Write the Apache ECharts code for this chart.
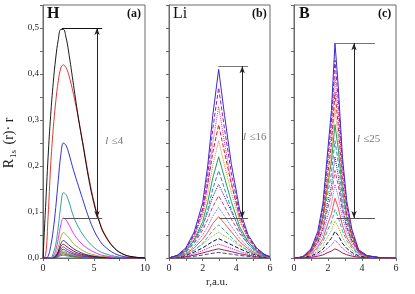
<!DOCTYPE html>
<html>
<head>
<meta charset="utf-8">
<script src="https://cdn.jsdelivr.net/npm/echarts@6/dist/echarts.min.js"></script>
<style>
  html, body { margin: 0; padding: 0; background: #fff; }
  #main { width: 415px; height: 294px; }
</style>
</head>
<body>
<div id="main"></div>
<script>
// r grids (a.u.) for each panel
var rH  = [0, 0.25, 0.5, 0.75, 1, 1.25, 1.5, 1.75, 2, 2.25, 2.5, 3, 3.5, 4, 4.5, 5, 5.5, 6, 7, 8, 9, 10];
var rLi = [0, 0.5, 1, 1.5, 2, 2.3, 2.6, 2.95, 3.3, 3.7, 4.2, 4.7, 5.2, 5.7, 6];
var rB  = [0, 0.5, 1, 1.4, 1.7, 2, 2.2, 2.41, 2.6, 2.85, 3.1, 3.4, 3.8, 4.3, 5, 6];

// (a) H, l <= 4
var curvesH = [
  [0, 0.11, 0.22, 0.31, 0.38, 0.435, 0.475, 0.497, 0.497, 0.48, 0.45, 0.375, 0.30, 0.235, 0.17, 0.118, 0.08, 0.052, 0.021, 0.007, 0.002, 0],
  [0, 0.005, 0.09, 0.2, 0.28, 0.34, 0.385, 0.413, 0.42, 0.414, 0.40, 0.355, 0.30, 0.238, 0.175, 0.122, 0.082, 0.054, 0.022, 0.007, 0.002, 0],
  [0, 0, 0.004, 0.025, 0.06, 0.11, 0.17, 0.225, 0.25, 0.245, 0.23, 0.19, 0.155, 0.12, 0.087, 0.06, 0.04, 0.026, 0.01, 0.003, 0.001, 0],
  [0, 0, 0, 0, 0.01, 0.03, 0.068, 0.115, 0.142, 0.138, 0.125, 0.09, 0.066, 0.048, 0.034, 0.023, 0.015, 0.01, 0.004, 0.001, 0, 0],
  [0, 0, 0, 0, 0.004, 0.017, 0.042, 0.072, 0.087, 0.083, 0.074, 0.053, 0.038, 0.027, 0.019, 0.013, 0.008, 0.005, 0.002, 0, 0, 0],
  [0, 0, 0, 0, 0.002, 0.009, 0.024, 0.045, 0.055, 0.051, 0.045, 0.031, 0.022, 0.015, 0.01, 0.007, 0.004, 0.003, 0.001, 0, 0, 0],
  [0, 0, 0, 0, 0.001, 0.005, 0.015, 0.031, 0.038, 0.034, 0.029, 0.02, 0.014, 0.009, 0.006, 0.004, 0.0025, 0.0015, 0, 0, 0, 0],
  [0, 0, 0, 0, 0.0008, 0.004, 0.012, 0.025, 0.03, 0.026, 0.022, 0.015, 0.01, 0.007, 0.0045, 0.003, 0.002, 0.001, 0, 0, 0, 0],
  [0, 0, 0, 0, 0.0005, 0.003, 0.01, 0.02, 0.024, 0.02, 0.017, 0.011, 0.0075, 0.005, 0.003, 0.002, 0.0012, 0.0007, 0, 0, 0, 0],
  [0, 0, 0, 0, 0.0004, 0.0025, 0.008, 0.016, 0.019, 0.016, 0.013, 0.0085, 0.0055, 0.0036, 0.0023, 0.0015, 0.0009, 0.0005, 0, 0, 0, 0],
  [0, 0, 0, 0, 0.0003, 0.002, 0.0065, 0.013, 0.015, 0.0125, 0.01, 0.0065, 0.004, 0.0026, 0.0017, 0.001, 0.0006, 0.0003, 0, 0, 0, 0],
  [0, 0, 0, 0, 0.0002, 0.0015, 0.005, 0.0104, 0.012, 0.0098, 0.0078, 0.005, 0.003, 0.002, 0.0012, 0.0008, 0.0004, 0.0002, 0, 0, 0, 0],
  [0, 0, 0, 0, 0.0002, 0.0012, 0.004, 0.0078, 0.009, 0.0074, 0.006, 0.0038, 0.0023, 0.0015, 0.0009, 0.0006, 0.0003, 0.0002, 0, 0, 0, 0],
  [0, 0, 0, 0, 0.0001, 0.0008, 0.0027, 0.0052, 0.006, 0.005, 0.004, 0.0025, 0.0015, 0.001, 0.0006, 0.0004, 0.0002, 0.0001, 0, 0, 0, 0]
];
var colorsH = ['#000000', '#e0201a', '#1a1ad8', '#1a9a8a', '#e020e0', '#a0a020', '#1a1a80',
               '#800000', '#8020a0', '#2040c0', '#e06080', '#20a020', '#804020', '#208080'];

// (b) Li, l <= 16
var curvesLi = [
  [0, 0.006, 0.022, 0.057, 0.12, 0.2, 0.31, 0.41, 0.31, 0.205, 0.105, 0.05, 0.022, 0.007, 0.003],
  [0, 0.0056, 0.02, 0.051, 0.108, 0.181, 0.28, 0.37, 0.28, 0.185, 0.095, 0.045, 0.02, 0.0063, 0.0026],
  [0, 0.005, 0.018, 0.046, 0.097, 0.161, 0.25, 0.33, 0.25, 0.165, 0.084, 0.04, 0.018, 0.0056, 0.0023],
  [0, 0.0058, 0.02, 0.052, 0.104, 0.16, 0.229, 0.29, 0.229, 0.162, 0.09, 0.046, 0.02, 0.0073, 0.0029],
  [0, 0.0051, 0.018, 0.046, 0.092, 0.14, 0.201, 0.255, 0.201, 0.143, 0.079, 0.041, 0.018, 0.0064, 0.0026],
  [0, 0.0044, 0.015, 0.04, 0.079, 0.121, 0.174, 0.22, 0.174, 0.123, 0.068, 0.035, 0.015, 0.0055, 0.0022],
  [0, 0.0038, 0.013, 0.034, 0.068, 0.105, 0.15, 0.19, 0.15, 0.106, 0.059, 0.03, 0.013, 0.0048, 0.0019],
  [0, 0.0056, 0.016, 0.038, 0.072, 0.099, 0.133, 0.16, 0.133, 0.101, 0.062, 0.035, 0.016, 0.0064, 0.0024],
  [0, 0.0047, 0.0135, 0.032, 0.061, 0.084, 0.112, 0.135, 0.112, 0.085, 0.053, 0.03, 0.0135, 0.0054, 0.002],
  [0, 0.0039, 0.011, 0.026, 0.05, 0.068, 0.091, 0.11, 0.091, 0.069, 0.043, 0.024, 0.011, 0.0044, 0.0017],
  [0, 0.0032, 0.009, 0.022, 0.041, 0.056, 0.075, 0.09, 0.075, 0.057, 0.035, 0.02, 0.009, 0.0036, 0.0014],
  [0, 0.0025, 0.0072, 0.017, 0.032, 0.045, 0.06, 0.072, 0.06, 0.045, 0.028, 0.016, 0.0072, 0.0029, 0.0011],
  [0, 0.0028, 0.0078, 0.017, 0.03, 0.039, 0.048, 0.056, 0.048, 0.039, 0.026, 0.016, 0.0078, 0.0034, 0.0011],
  [0, 0.0021, 0.0059, 0.013, 0.022, 0.029, 0.036, 0.042, 0.036, 0.029, 0.02, 0.012, 0.0059, 0.0025, 0.0008],
  [0, 0.0015, 0.0042, 0.0093, 0.016, 0.021, 0.026, 0.03, 0.026, 0.021, 0.014, 0.0087, 0.0042, 0.0018, 0.0006],
  [0, 0.001, 0.0028, 0.0062, 0.011, 0.014, 0.017, 0.02, 0.017, 0.014, 0.0094, 0.0058, 0.0028, 0.0012, 0.0004],
  [0, 0.0006, 0.0017, 0.0037, 0.0064, 0.0083, 0.0103, 0.012, 0.0103, 0.0084, 0.0056, 0.0035, 0.0017, 0.0007, 0.0002]
];

// (c) B, l <= 25
var curvesB = [
  [0, 0.002, 0.02, 0.058, 0.118, 0.24, 0.32, 0.467, 0.375, 0.22, 0.125, 0.063, 0.018, 0.005, 0.001, 0],
  [0, 0.0017, 0.018, 0.053, 0.109, 0.221, 0.295, 0.43, 0.345, 0.203, 0.115, 0.058, 0.017, 0.0047, 0.0009, 0],
  [0, 0.0016, 0.017, 0.049, 0.1, 0.203, 0.271, 0.395, 0.317, 0.186, 0.106, 0.053, 0.015, 0.0043, 0.0008, 0],
  [0, 0.0014, 0.015, 0.045, 0.091, 0.185, 0.247, 0.36, 0.289, 0.17, 0.096, 0.049, 0.014, 0.004, 0.0007, 0],
  [0, 0.0013, 0.014, 0.04, 0.082, 0.167, 0.223, 0.325, 0.261, 0.153, 0.087, 0.044, 0.013, 0.0036, 0.0007, 0],
  [0, 0.0023, 0.017, 0.046, 0.087, 0.162, 0.209, 0.29, 0.238, 0.148, 0.09, 0.049, 0.017, 0.0052, 0.0012, 0],
  [0, 0.002, 0.015, 0.041, 0.077, 0.143, 0.184, 0.255, 0.209, 0.13, 0.079, 0.043, 0.015, 0.0046, 0.001, 0],
  [0, 0.0018, 0.013, 0.035, 0.066, 0.123, 0.158, 0.22, 0.18, 0.112, 0.068, 0.037, 0.013, 0.004, 0.0009, 0],
  [0, 0.0025, 0.014, 0.034, 0.061, 0.11, 0.14, 0.19, 0.159, 0.103, 0.066, 0.038, 0.014, 0.0045, 0.001, 0],
  [0, 0.0022, 0.012, 0.029, 0.052, 0.093, 0.118, 0.16, 0.134, 0.087, 0.056, 0.032, 0.012, 0.0038, 0.0009, 0],
  [0, 0.0018, 0.0098, 0.024, 0.042, 0.076, 0.096, 0.13, 0.109, 0.071, 0.045, 0.026, 0.0098, 0.0031, 0.0007, 0],
  [0, 0.0016, 0.0085, 0.02, 0.035, 0.062, 0.078, 0.105, 0.089, 0.059, 0.038, 0.022, 0.0085, 0.0027, 0.0006, 0],
  [0, 0.0012, 0.0065, 0.015, 0.027, 0.047, 0.06, 0.08, 0.068, 0.045, 0.029, 0.017, 0.0065, 0.0021, 0.0005, 0],
  [0, 0.0009, 0.0047, 0.011, 0.019, 0.034, 0.043, 0.058, 0.049, 0.032, 0.021, 0.012, 0.0047, 0.0015, 0.0004, 0],
  [0, 0.0006, 0.0031, 0.0074, 0.013, 0.022, 0.028, 0.038, 0.032, 0.021, 0.014, 0.0079, 0.0031, 0.001, 0.0002, 0],
  [0, 0.0003, 0.0016, 0.0039, 0.0066, 0.012, 0.015, 0.02, 0.017, 0.011, 0.0072, 0.0042, 0.0016, 0.0005, 0.0001, 0]
];
var colorsMix = ['#3a2ad0', '#9020c0', '#e03090', '#d02020', '#e08020', '#20a060', '#2090c0', '#600090',
                 '#c04080', '#6060ff', '#ff5050', '#30b0b0', '#a0a000', '#000080', '#c000c0', '#a02050', '#4040a0'];
var dashes = ['solid', 'dashed', 'dotted', 'dashed', 'dotted'];

// annotations: [r start, r end, value] of the two bracket lines, arrow r, label pos
var annH  = { top: [1.85, 5.8, 0.5],   bot: [2.0, 5.8, 0.087], arrow: 5.3,  text: [6.1, 0.255], label: '≤4' };
var annLi = { top: [2.93, 4.7, 0.417], bot: [3.0, 4.7, 0.087], arrow: 4.35, text: [4.4, 0.262], label: '≤16' };
var annB  = { top: [2.41, 4.76, 0.467], bot: [2.5, 4.76, 0.087], arrow: 3.53, text: [3.7, 0.258], label: '≤25' };

var serif = 'Liberation Serif';
var axisGray = '#6a6a6a';

function pairs(xs, ys) {
  return xs.map(function (x, i) { return [x, ys[i]]; });
}

var grids = [
  { left: 43, top: 5, width: 102, height: 253, show: true, borderColor: axisGray, borderWidth: 1 },
  { left: 169, top: 5, width: 101, height: 253, show: true, borderColor: axisGray, borderWidth: 1 },
  { left: 294, top: 5, width: 102, height: 253, show: true, borderColor: axisGray, borderWidth: 1 }
];

function xAxis(idx, max, interval) {
  return {
    type: 'value', gridIndex: idx, min: 0, max: max, interval: interval,
    axisLine: { lineStyle: { color: axisGray } },
    axisTick: { length: 3, lineStyle: { color: axisGray } },
    minorTick: { show: true, splitNumber: 2, length: 3, lineStyle: { color: axisGray } },
    splitLine: { show: false },
    axisLabel: { fontFamily: serif, fontSize: 10, color: '#222', margin: 5 }
  };
}
function yAxis(idx, labels) {
  return {
    type: 'value', gridIndex: idx, min: 0, max: 0.55, interval: 0.1,
    axisLine: { show: true, lineStyle: { color: axisGray } },
    axisTick: { length: 3, lineStyle: { color: axisGray } },
    minorTick: { show: true, splitNumber: 2, length: 3, lineStyle: { color: axisGray } },
    splitLine: { show: false },
    axisLabel: {
      show: labels, showMaxLabel: false, fontFamily: serif, fontSize: 9, color: '#222', margin: 4,
      formatter: function (v) { return v.toFixed(1).replace('.', ','); }
    }
  };
}

var series = [];
function addCurves(idx, xs, curves, colors, width, styled, smooth) {
  curves.forEach(function (ys, k) {
    series.push({
      type: 'line', xAxisIndex: idx, yAxisIndex: idx,
      data: pairs(xs, ys), showSymbol: false, smooth: smooth,
      silent: true, z: 2 + (curves.length - k) * 0.01,
      lineStyle: {
        color: colors[k % colors.length], width: width,
        type: styled ? (k === 0 ? 'solid' : dashes[k % dashes.length]) : 'solid'
      }
    });
  });
}
addCurves(0, rH, curvesH, colorsH, 0.9, false, 0.4);
addCurves(1, rLi, curvesLi, colorsMix, 1, true, false);
addCurves(2, rB, curvesB, colorsMix, 1, true, false);

function addAnnotation(idx, a, topColor) {
  series.push({
    type: 'scatter', xAxisIndex: idx, yAxisIndex: idx, symbolSize: 0, silent: true, z: 10,
    data: [a.text],
    label: {
      show: true, position: 'right', distance: 0,
      formatter: '{i|l} {t|' + a.label + '}',
      rich: {
        i: { fontFamily: serif, fontStyle: 'italic', fontSize: 11, color: '#555' },
        t: { fontFamily: serif, fontSize: 11, color: '#555' }
      }
    },
    markLine: {
      silent: true, symbol: 'none', label: { show: false },
      lineStyle: { type: 'solid', width: 1 },
      data: [
        [{ coord: [a.top[0], a.top[2]], lineStyle: { color: topColor } }, { coord: [a.top[1], a.top[2]] }],
        [{ coord: [a.bot[0], a.bot[2]], lineStyle: { color: '#555' } }, { coord: [a.bot[1], a.bot[2]] }],
        [{ coord: [a.arrow, a.top[2]], symbol: 'arrow', symbolSize: [4, 7], lineStyle: { color: '#222' } },
         { coord: [a.arrow, a.bot[2]], symbol: 'arrow', symbolSize: [4, 7] }]
      ]
    }
  });
}
addAnnotation(0, annH, '#111');
addAnnotation(1, annLi, '#777');
addAnnotation(2, annB, '#777');

var chart = echarts.init(document.getElementById('main'), null, { renderer: 'canvas' });
chart.setOption({
  animation: false,
  backgroundColor: '#fff',
  grid: grids,
  xAxis: [xAxis(0, 10, 5), xAxis(1, 6, 2), xAxis(2, 6, 2)],
  yAxis: [yAxis(0, true), yAxis(1, false), yAxis(2, false)],
  series: series,
  graphic: [
    { type: 'text', left: 47, top: 6, style: { text: 'H', font: 'bold 16px "Liberation Serif"', fill: '#111' } },
    { type: 'text', left: 127, top: 8, style: { text: '(a)', font: 'bold 12px "Liberation Serif"', fill: '#111' } },
    { type: 'text', left: 173, top: 6, style: { text: 'Li', font: '16px "Liberation Serif"', fill: '#111' } },
    { type: 'text', left: 252, top: 8, style: { text: '(b)', font: 'bold 12px "Liberation Serif"', fill: '#111' } },
    { type: 'text', left: 299, top: 6, style: { text: 'B', font: 'bold 16px "Liberation Serif"', fill: '#111' } },
    { type: 'text', left: 378, top: 8, style: { text: '(c)', font: 'bold 12px "Liberation Serif"', fill: '#111' } },
    { type: 'text', left: 206, top: 277, style: { text: 'r,a.u.', font: '11px "Liberation Serif"', fill: '#222' } },
    {
      type: 'text', x: 9, y: 143, rotation: Math.PI / 2,
      style: {
        text: '{a|R}{s|1s}{a| (r)· r}', align: 'center', verticalAlign: 'middle',
        rich: {
          a: { fontFamily: serif, fontSize: 14, fill: '#222', lineHeight: 17 },
          s: { fontFamily: serif, fontSize: 9, fill: '#222', padding: [10, 2, 0, 1] }
        }
      }
    }
  ]
});
</script>
</body>
</html>
